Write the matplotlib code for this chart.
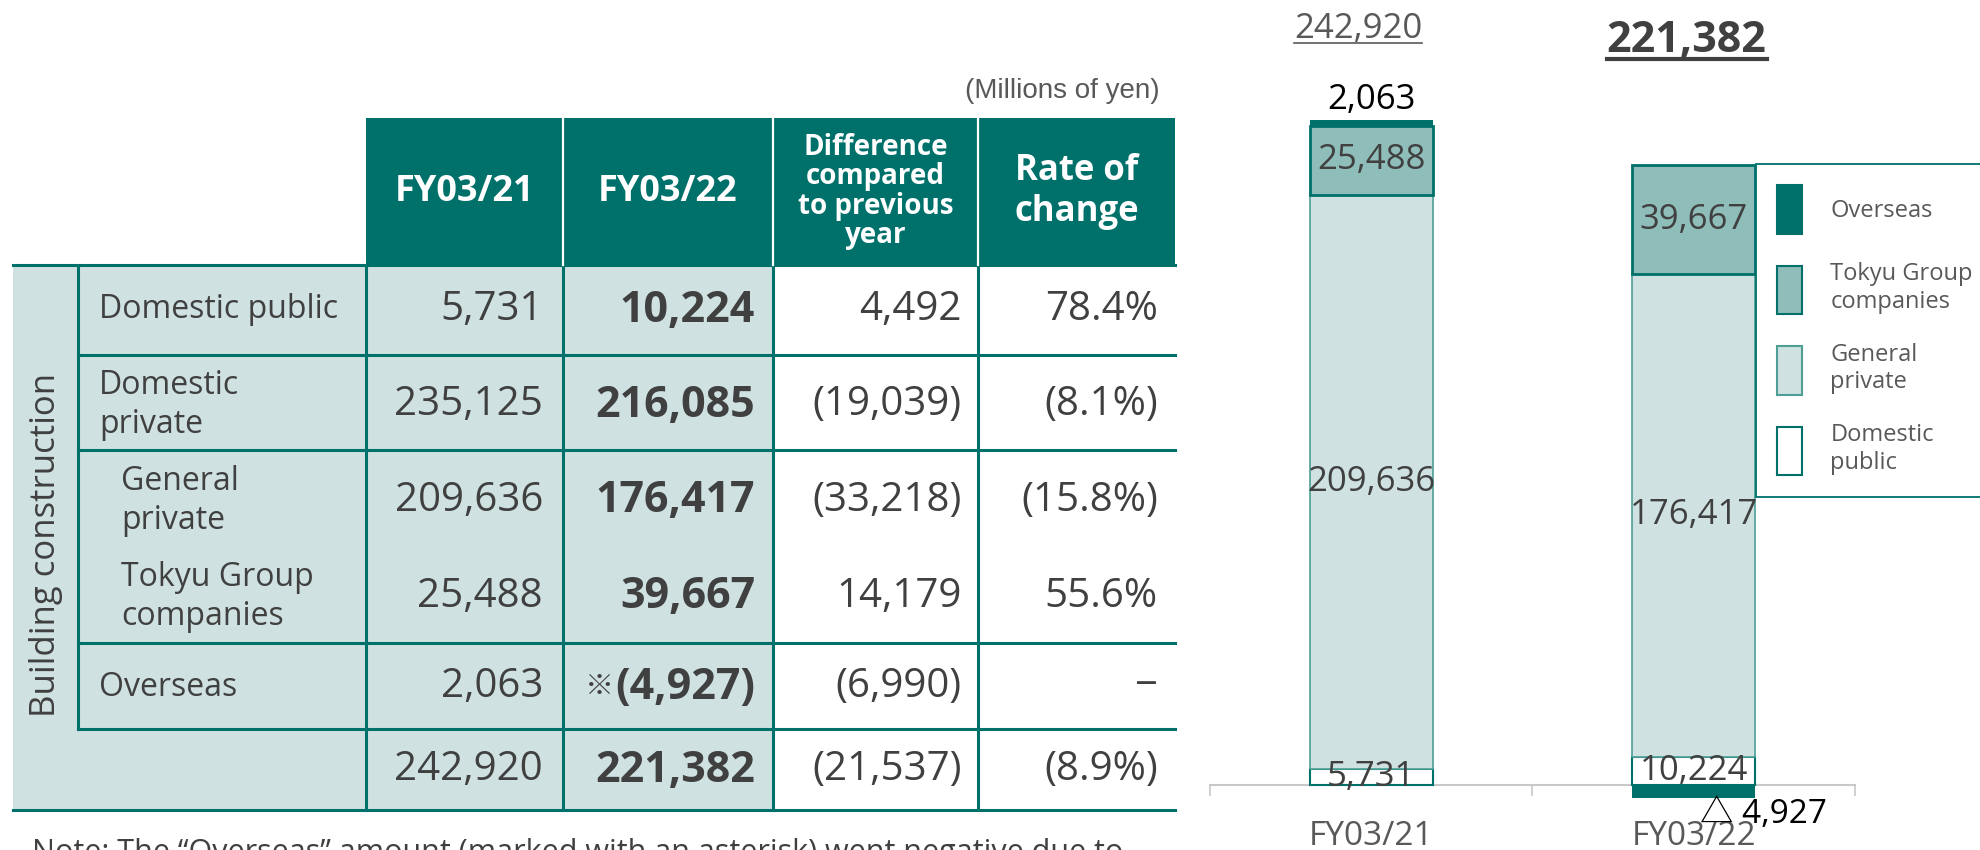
import numpy as np
import matplotlib
matplotlib.use("Agg")
import matplotlib.pyplot as plt
import matplotlib.transforms as mtransforms
from matplotlib.lines import Line2D
from matplotlib.patches import Rectangle, Patch

W, H = 1981, 850

TEAL = "#00706A"
MID = "#8FBDB9"
LIGHT = "#CFE2E1"
TEXT = "#404040"
GRAY = "#595959"

plt.rcParams["font.family"] = ["Open Sans", "Noto Sans CJK JP", "DejaVu Sans"]

# table data
headers = ["FY03/21", "FY03/22", "Difference\ncompared\nto previous\nyear", "Rate of\nchange"]
row_labels = ["Domestic public", "Domestic\nprivate", "General\nprivate",
              "Tokyu Group\ncompanies", "Overseas", ""]
indented = [False, False, True, True, False, False]
fy21_text = ["5,731", "235,125", "209,636", "25,488", "2,063", "242,920"]
fy22_text = ["10,224", "216,085", "176,417", "39,667", "(4,927)", "221,382"]
diff_text = ["4,492", "(19,039)", "(33,218)", "14,179", "(6,990)", "(21,537)"]
rate_text = ["78.4%", "(8.1%)", "(15.8%)", "55.6%", "\u2212", "(8.9%)"]
asterisk_row = 4
group_label = "Building construction"
unit_note = "(Millions of yen)"
footnote = "Note: The \u201cOverseas\u201d amount (marked with an asterisk) went negative due to"

# bar data
years = ["FY03/21", "FY03/22"]
segments = ["Domestic public", "General private", "Tokyu Group companies", "Overseas"]
legend_labels = ["Domestic\npublic", "General\nprivate", "Tokyu Group\ncompanies", "Overseas"]
fy21_vals = [5731, 209636, 25488, 2063]
fy22_vals = [10224, 176417, 39667, -4927]
totals = ["242,920", "221,382"]

seg_face = ["white", LIGHT, MID, TEAL]
seg_edge = [TEAL, "#4E9E96", TEAL, TEAL]
seg_lw = [1.5, 1.2, 2.0, 0.0]

fig = plt.figure(figsize=(W / 100, H / 100), dpi=100)

# ---- table drawn on a pixel canvas ----
cv = fig.add_axes([0, 0, 1, 1])
cv.set_xlim(0, W)
cv.set_ylim(H, 0)
cv.axis("off")

col_x = [13, 78, 366, 563, 773, 978, 1175]
head_top = 118
row_y = [265, 355, 450, 546, 643, 729, 810]

cv.add_patch(Rectangle((col_x[0], row_y[0]), col_x[4] - col_x[0], row_y[-1] - row_y[0],
                       facecolor=LIGHT, edgecolor="none"))
cv.add_patch(Rectangle((col_x[2], head_top), col_x[-1] - col_x[2], row_y[0] - head_top,
                       facecolor=TEAL, edgecolor="none"))

lw = 2.2
cv.plot([col_x[0], col_x[-1]], [row_y[0], row_y[0]], color=TEAL, lw=lw)
cv.plot([col_x[0], col_x[-1]], [row_y[-1], row_y[-1]], color=TEAL, lw=lw)
for y in [row_y[1], row_y[2], row_y[4], row_y[5]]:
    cv.plot([col_x[1], col_x[-1]], [y, y], color=TEAL, lw=lw)
cv.plot([col_x[1], col_x[1]], [row_y[0], row_y[5]], color=TEAL, lw=lw)
for x in col_x[2:6]:
    cv.plot([x, x], [row_y[0], row_y[-1]], color=TEAL, lw=lw)
for x in col_x[3:6]:
    cv.plot([x, x], [head_top, row_y[0]], color="white", lw=1.6)

head_sizes = [26, 26, 20, 25]
head_spacing = [1.2, 1.2, 1.02, 1.18]
for i, h in enumerate(headers):
    cx = (col_x[i + 2] + col_x[i + 3]) / 2
    cv.text(cx, (head_top + row_y[0]) / 2, h, ha="center", va="center", color="white",
            fontsize=head_sizes[i], fontweight="bold", linespacing=head_spacing[i])

cv.text(1160, 91, unit_note, ha="right", va="center", color=GRAY, fontsize=20,
        family="Liberation Sans")

cv.text(46, 545, group_label, rotation=90, ha="center", va="center", color=TEXT, fontsize=25)

row_centers = [310, 405, 501, 597, 687, 770]
pads = [20, 18, 16, 17]
mark_anchor = None
for r in range(len(row_labels)):
    yc = row_centers[r]
    lx = 121 if indented[r] else 99
    cv.text(lx, yc, row_labels[r], ha="left", va="center", color=TEXT, fontsize=23,
            linespacing=1.25)
    cols = [fy21_text[r], fy22_text[r], diff_text[r], rate_text[r]]
    for c, s in enumerate(cols):
        bold = c == 1
        t = cv.text(col_x[c + 3] - pads[c], yc, s, ha="right", va="center", color=TEXT,
                    fontsize=31 if bold else 29, fontweight="bold" if bold else "normal")
        if bold and r == asterisk_row:
            mark_anchor = t

cv.text(32, 838, footnote, ha="left", va="top", color=TEXT, fontsize=22)

# ---- stacked bar chart ----
scale = 0.002738  # px per million yen
ylo, yhi = -20000, 270000
base_px = 785
ax_h = (yhi - ylo) * scale
ax_bottom = H - (base_px - ylo * scale)
ax = fig.add_axes([1210 / W, ax_bottom / H, 645 / W, ax_h / H])
ax.set_facecolor("none")
ax.set_xlim(-0.5, 1.5)
ax.set_ylim(ylo, yhi)

x = np.arange(len(years))
vals = np.array([fy21_vals, fy22_vals])
pos_bottom = np.zeros(len(years))
handles = {}
for j, seg in enumerate(segments):
    v = vals[:, j]
    bottom = np.where(v >= 0, pos_bottom, 0)
    ax.bar(x, v, width=0.38, bottom=bottom, facecolor=seg_face[j], edgecolor=seg_edge[j],
           linewidth=seg_lw[j], zorder=3)
    for i in range(len(years)):
        if seg != "Overseas":
            ax.text(x[i], bottom[i] + v[i] / 2, f"{v[i]:,}", ha="center", va="center",
                    color=TEXT, fontsize=25, zorder=4)
        elif v[i] >= 0:
            ax.annotate(f"{v[i]:,}", (x[i], bottom[i] + v[i]), xytext=(0, 2),
                        textcoords="offset points", ha="center", va="bottom",
                        color="black", fontsize=25)
        else:
            ax.annotate(f"\u25b3 {abs(v[i]):,}", (x[i], v[i]), xytext=(50, 0),
                        textcoords="offset points", ha="center", va="top",
                        color="black", fontsize=24, zorder=5)
    pos_bottom += np.where(v > 0, v, 0)
    handles[seg] = Patch(facecolor=seg_face[j], edgecolor=seg_edge[j] if j < 3 else TEAL,
                         linewidth=1.5)

for s in ["top", "right", "left"]:
    ax.spines[s].set_visible(False)
ax.spines["bottom"].set_position(("data", 0))
ax.spines["bottom"].set_color("#C8C8C8")
ax.spines["bottom"].set_linewidth(1.5)
ax.set_yticks([])
ax.set_xticks([-0.5, 0.5, 1.5], labels=["", "", ""])
ax.tick_params(axis="x", which="major", length=8, color="#C8C8C8", width=1.2)
ax.set_xticks(x, labels=years, minor=True)
ax.tick_params(axis="x", which="minor", length=0, pad=25, labelsize=24, labelcolor=GRAY)

# totals above the bars
blend = mtransforms.blended_transform_factory(ax.transData, cv.transData)
tot_texts = [
    ax.text(x[0], 29, totals[0], ha="center", va="center", color=GRAY, fontsize=25,
            transform=blend + mtransforms.ScaledTranslation(-0.13, 0, fig.dpi_scale_trans)),
    ax.text(x[1], 40, totals[1], ha="center", va="center", color=TEXT, fontsize=31,
            fontweight="bold",
            transform=blend + mtransforms.ScaledTranslation(-0.07, 0, fig.dpi_scale_trans)),
]

order = ["Overseas", "Tokyu Group companies", "General private", "Domestic public"]
leg = fig.legend([handles[k] for k in order], [legend_labels[segments.index(k)] for k in order],
                 loc="upper left", bbox_to_anchor=(1756 / W, 1 - 164 / H), frameon=True,
                 fancybox=False, edgecolor=TEAL, fontsize=17, labelcolor=GRAY,
                 handlelength=1.05, handleheight=2.8, labelspacing=1.2, borderpad=0.9,
                 handletextpad=1.2, framealpha=1, borderaxespad=0)
leg.get_frame().set_linewidth(1.3)

# underlines and asterisk mark need the rendered text extents
fig.canvas.draw()
for t, w in zip(tot_texts, [1.2, 3.0]):
    bb = t.get_window_extent()
    fig.add_artist(Line2D([bb.x0, bb.x1], [bb.y0 + 3, bb.y0 + 3], transform=None,
                          color=t.get_color(), lw=w))
bb = mark_anchor.get_window_extent()
fig.text(bb.x0 - 1, (bb.y0 + bb.y1) / 2, "\u203b", transform=None, ha="right", va="center",
         color=TEXT, fontsize=21)

fig.savefig("out.png", dpi=100)
